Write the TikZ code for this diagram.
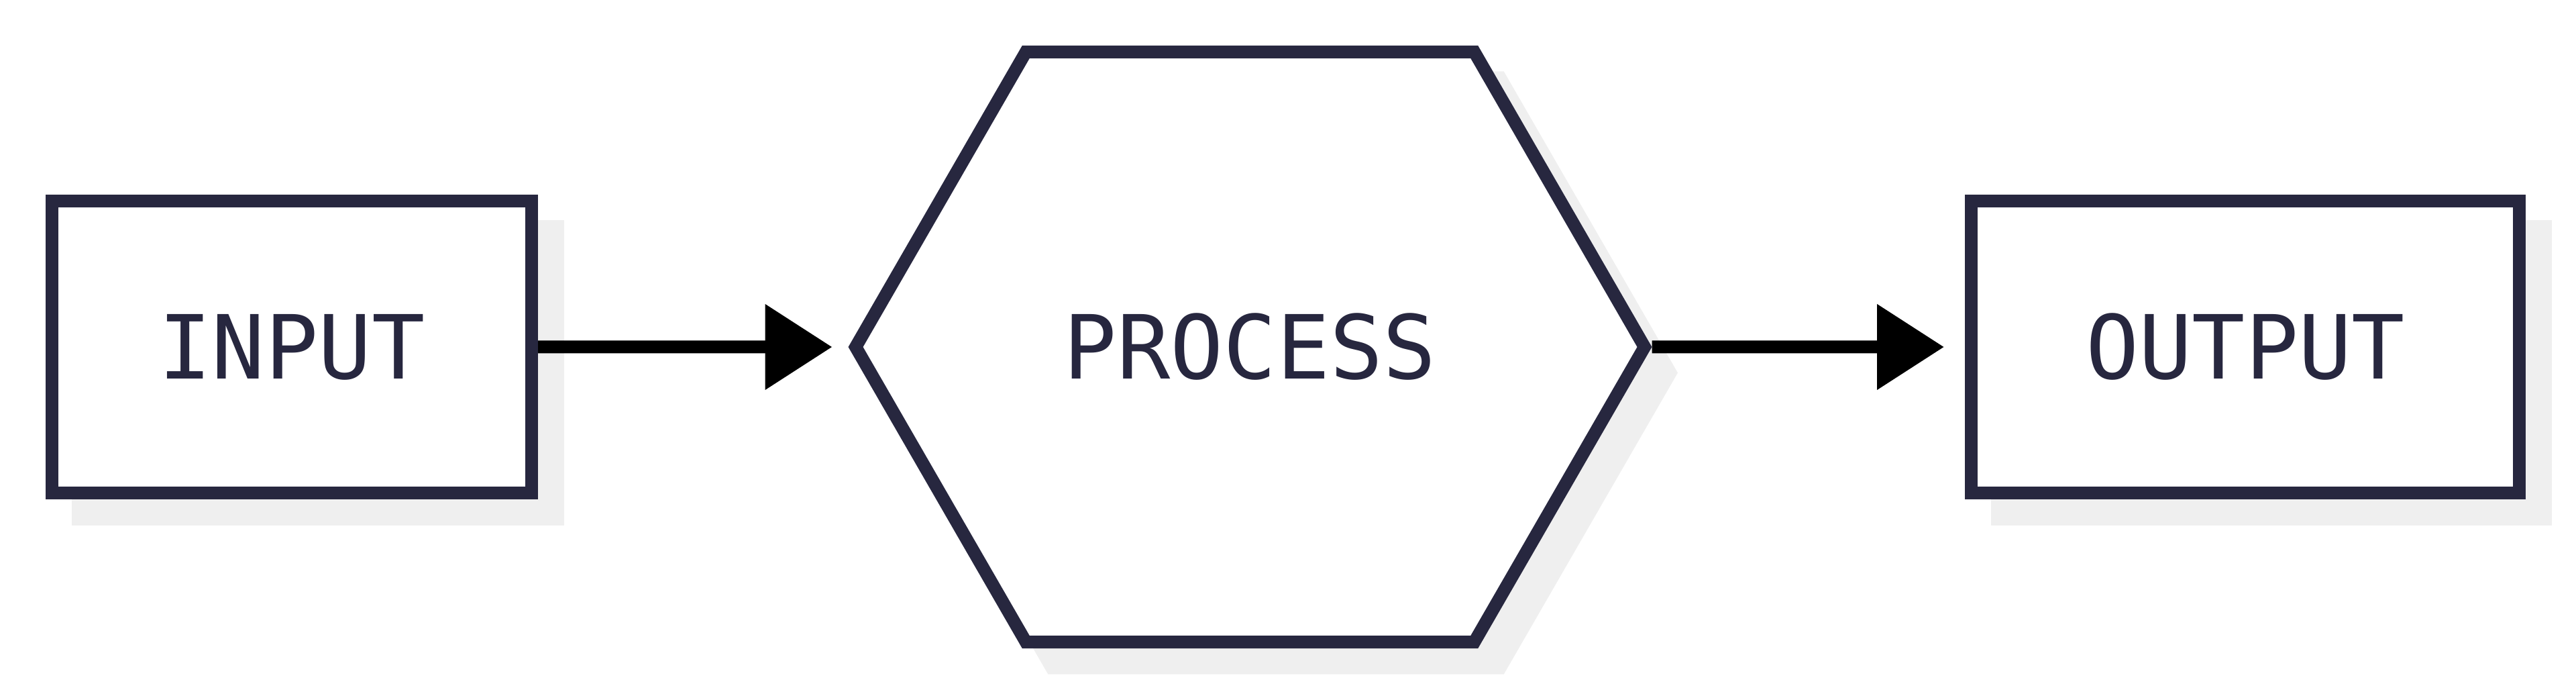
\documentclass[tikz,border=0pt]{standalone}
\usepackage{fontspec}
\setmonofont{DejaVu Sans Mono}
\usetikzlibrary{arrows.meta, shapes.symbols, shadows}

\definecolor{ink}{HTML}{27273F}
\definecolor{shade}{HTML}{EFEFEF}

\begin{document}
\begin{tikzpicture}[align=center, font=\ttfamily\fontsize{37.5}{45}\selectfont,
    stepbox/.style={draw=ink, fill=white, text=ink, line width=0.19cm, inner sep=0pt,
        drop shadow={shadow xshift=0.385cm, shadow yshift=-0.385cm, fill=shade, draw=shade, opacity=1}},
    flow/.style={line width=0.19cm, -{Triangle[length=1cm, width=1.23cm]}}]

\useasboundingbox (0, 0) rectangle (38.4, 10.36);

% Steps
\node[stepbox, minimum width=7.15cm, minimum height=4.355cm] (input) at (4.35, 5.19) {INPUT};
\node[stepbox, signal, signal from=nowhere, signal to=west and east, signal pointer angle=120,
    minimum width=11.76cm, minimum height=8.79cm] (process) at (18.635, 5.19) {PROCESS};
\node[stepbox, minimum width=8.17cm, minimum height=4.355cm] (output) at (33.47, 5.19) {OUTPUT};

% Arrows
\draw[flow, shorten >=0.24cm] (input) -- (process);
\draw[flow, shorten >=0.31cm] (process) -- (output);

\end{tikzpicture}
\end{document}
